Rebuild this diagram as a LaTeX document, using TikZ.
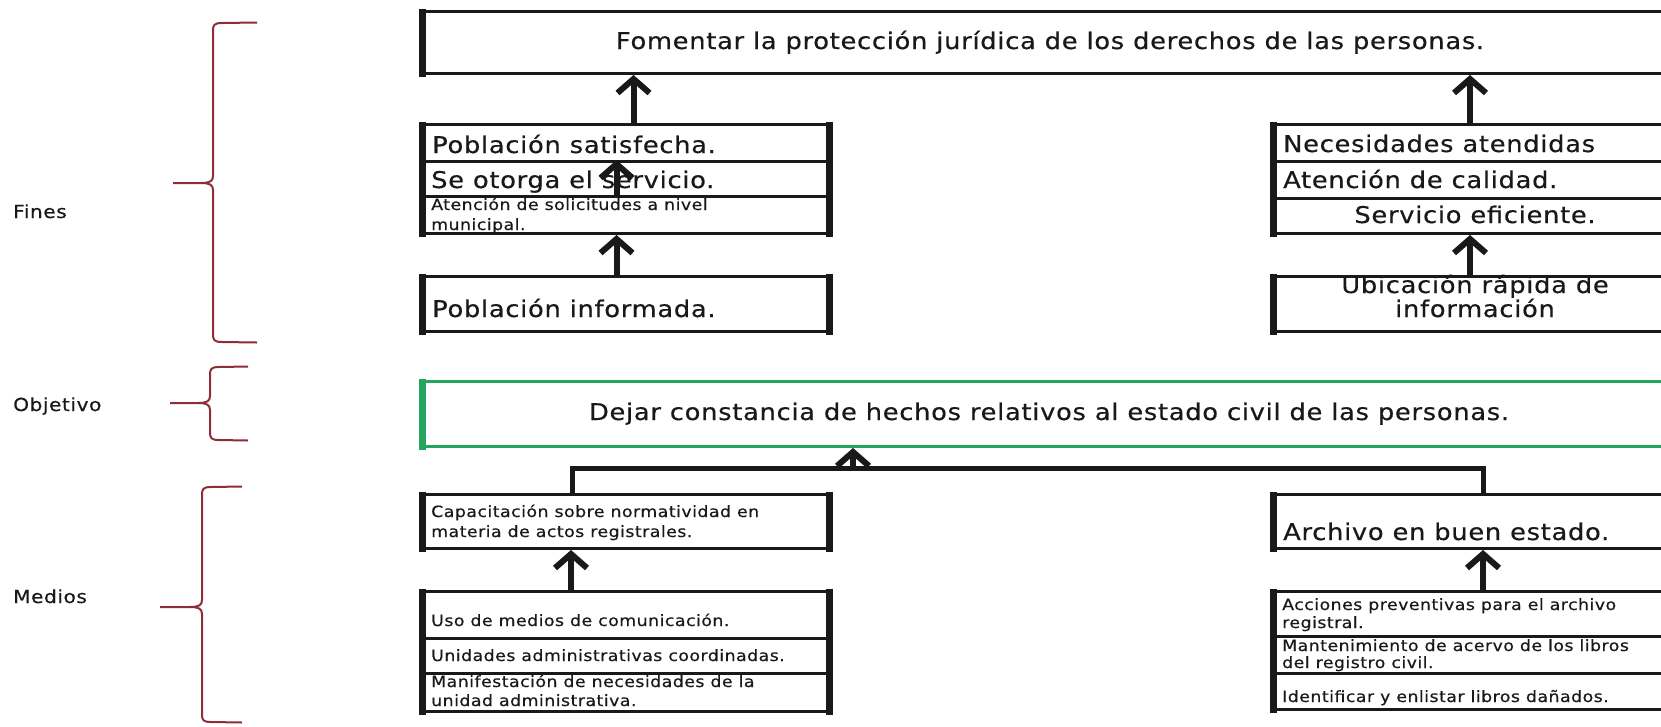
\documentclass[tikz,border=0pt]{standalone}
\usepackage{fontspec}
\setmainfont{DejaVu Sans}[LetterSpace=3,FakeStretch=1.12,FakeBold=0.4]
\usetikzlibrary{arrows.meta,calc}
\definecolor{ink}{RGB}{25,25,25}
\definecolor{brc}{RGB}{140,45,55}
\definecolor{grn}{RGB}{35,165,95}
\newcommand\drawbrace[6]{% x, top, mid, bottom, tickleft, armright
  \draw[brace] (#6,#2-0.5) -- (#1+9,#2) .. controls (#1+1,#2) and (#1,#2+2) .. (#1,#2+8) -- (#1,#3-7)
     .. controls (#1,#3-2) and (#1-3,#3) .. (#1-12,#3) -- (#5,#3);
  \draw[brace] (#1-12,#3) .. controls (#1-3,#3) and (#1,#3+2) .. (#1,#3+7) -- (#1,#4-8)
     .. controls (#1,#4-2) and (#1+1,#4) .. (#1+9,#4) -- (#6,#4+0.5);
}
\tikzset{
  box/.style={draw=ink, line width=3pt, rectangle, inner sep=0pt, anchor=north west, minimum width=404pt},
  gbox/.style={box, draw=grn},
  big/.style={font=\fontsize{23}{27}\selectfont, inner sep=0pt, text=ink},
  small/.style={font=\fontsize{15.5}{18}\selectfont, inner sep=0pt, text=ink},
  lab/.style={font=\fontsize{18}{21}\selectfont, inner sep=0pt, text=ink, anchor=base west},
  arr/.style={draw=ink, line width=6pt, -{Straight Barb[length=14pt,width=32pt]}},
  side/.style={draw=ink, line width=7pt, shorten <=-1.5pt, shorten >=-1.5pt},
  brace/.style={draw=brc, line width=2pt},
}
\begin{document}
\begin{tikzpicture}[x=1pt,y=-1pt]
\useasboundingbox (0,0) rectangle (1661,726);
\clip (0,0) rectangle (1661,726);
\fill[white] (0,0) rectangle (1661,726);

% labels and braces
\node[lab] (lfines) at (13,218) {Fines};
\node[lab] (lobj) at (13,411) {Objetivo};
\node[lab] (lmed) at (13,603) {Medios};
\drawbrace{213}{23}{183}{342}{173}{257}
\drawbrace{210}{367}{403}{440}{170}{248}
\drawbrace{202}{487}{607}{722}{160}{242}

% top box
\node[box, minimum width=1256pt, minimum height=62pt] (T) at (422,10) {};
\draw[side] (T.north west) -- (T.south west);
\node[big, anchor=base] (tT) at (1050,49) {Fomentar la protección jurídica de los derechos de las personas.};

% left fines group
\node[box, minimum height=37pt] (LF1) at (422,123) {};
\node[box, minimum height=35pt] (LF2) at (422,160) {};
\node[box, minimum height=37pt] (LF3) at (422,195) {};
\draw[side] (LF1.north west) -- (LF3.south west);
\draw[side] (LF1.north east) -- (LF3.south east);
\node[big, anchor=base west] (tLF1) at (432,153) {Población satisfecha.};
\node[big, anchor=base west] (tLF2) at (431,188) {Se otorga el servicio.};
\node[small, anchor=base west] (tLF3a) at (431,210) {Atención de solicitudes a nivel};
\node[small, anchor=base west] (tLF3b) at (431,230) {municipal.};

\node[box, minimum height=55pt] (LFI) at (422,275) {};
\draw[side] (LFI.north west) -- (LFI.south west);
\draw[side] (LFI.north east) -- (LFI.south east);
\node[big, anchor=base west] (tLFI) at (432,317) {Población informada.};

% right fines group
\node[box, minimum width=405pt, minimum height=37pt] (RF1) at (1273,123) {};
\node[box, minimum width=405pt, minimum height=37pt] (RF2) at (1273,160) {};
\node[box, minimum width=405pt, minimum height=35pt] (RF3) at (1273,197) {};
\draw[side] (RF1.north west) -- (RF3.south west);
\node[big, anchor=base west] (tRF1) at (1283,152) {Necesidades atendidas};
\node[big, anchor=base west] (tRF2) at (1283,188) {Atención de calidad.};
\node[big, anchor=base] (tRF3) at (1475,223) {Servicio eficiente.};

\node[box, minimum width=405pt, minimum height=55pt] (RFU) at (1273,275) {};
\draw[side] (RFU.north west) -- (RFU.south west);
\node[big, anchor=base] (tRFUa) at (1475,293) {Ubicación rápida de};
\node[big, anchor=base] (tRFUb) at (1475,317) {información};

% objective
\node[gbox, minimum width=1256pt, minimum height=65pt] (O) at (422,380) {};
\draw[side, draw=grn] (O.north west) -- (O.south west);
\node[big, anchor=base] (tO) at (1049,420) {Dejar constancia de hechos relativos al estado civil de las personas.};

% medios
\node[box, minimum height=54pt] (C) at (422,493) {};
\draw[side] (C.north west) -- (C.south west);
\draw[side] (C.north east) -- (C.south east);
\node[small, anchor=base west] (tCa) at (431,517) {Capacitación sobre normatividad en};
\node[small, anchor=base west] (tCb) at (431,537) {materia de actos registrales.};

\node[box, minimum width=405pt, minimum height=54pt] (A) at (1273,493) {};
\draw[side] (A.north west) -- (A.south west);
\node[big, anchor=base west] (tA) at (1283,540) {Archivo en buen estado.};

\node[box, minimum height=47pt] (ML1) at (422,590) {};
\node[box, minimum height=35pt] (ML2) at (422,637) {};
\node[box, minimum height=38pt] (ML3) at (422,672) {};
\draw[side] (ML1.north west) -- (ML3.south west);
\draw[side] (ML1.north east) -- (ML3.south east);
\node[small, anchor=base west] (tML1) at (431,626) {Uso de medios de comunicación.};
\node[small, anchor=base west] (tML2) at (431,661) {Unidades administrativas coordinadas.};
\node[small, anchor=base west] (tML3a) at (431,687) {Manifestación de necesidades de la};
\node[small, anchor=base west] (tML3b) at (431,706) {unidad administrativa.};

\node[box, minimum width=405pt, minimum height=45pt] (MR1) at (1273,590) {};
\node[box, minimum width=405pt, minimum height=37pt] (MR2) at (1273,635) {};
\node[box, minimum width=405pt, minimum height=36pt] (MR3) at (1273,672) {};
\draw[side] (MR1.north west) -- (MR3.south west);
\node[small, anchor=base west] (tMR1a) at (1282,610) {Acciones preventivas para el archivo};
\node[small, anchor=base west] (tMR1b) at (1282,628) {registral.};
\node[small, anchor=base west] (tMR2a) at (1282,651) {Mantenimiento de acervo de los libros};
\node[small, anchor=base west] (tMR2b) at (1282,668) {del registro civil.};
\node[small, anchor=base west] (tMR3) at (1282,702) {Identificar y enlistar libros dañados.};

% arrows
\coordinate (a1) at ($(LF1.north)+(8,0)$);
\draw[arr] (a1) -- (a1 |- T.south);
\coordinate (a2) at ($(LF3.north)+(-9,0)$);
\draw[arr] (a2) -- (a2 |- LF2.north);
\coordinate (a3) at ($(LFI.north)+(-9,0)$);
\draw[arr] (a3) -- (a3 |- LF3.south);
\coordinate (a4) at ($(RF1.north)+(-7,0)$);
\draw[arr] (a4) -- (a4 |- T.south);
\coordinate (a5) at ($(RFU.north)+(-7,0)$);
\draw[arr] (a5) -- (a5 |- RF3.south);
\coordinate (c1) at ($(C.north west)+(150,0)$);
\coordinate (c2) at ($(A.north west)+(210,0)$);
\coordinate (J) at (853,468);
\draw[draw=ink, line width=5pt] (c1) |- (J) -| (c2);
\draw[arr] (J) -- (J |- O.south);
\coordinate (a6) at ($(ML1.north west)+(149,0)$);
\draw[arr] (a6) -- (a6 |- C.south);
\coordinate (a7) at ($(MR1.north west)+(210,0)$);
\draw[arr] (a7) -- (a7 |- A.south);
\end{tikzpicture}
\end{document}
